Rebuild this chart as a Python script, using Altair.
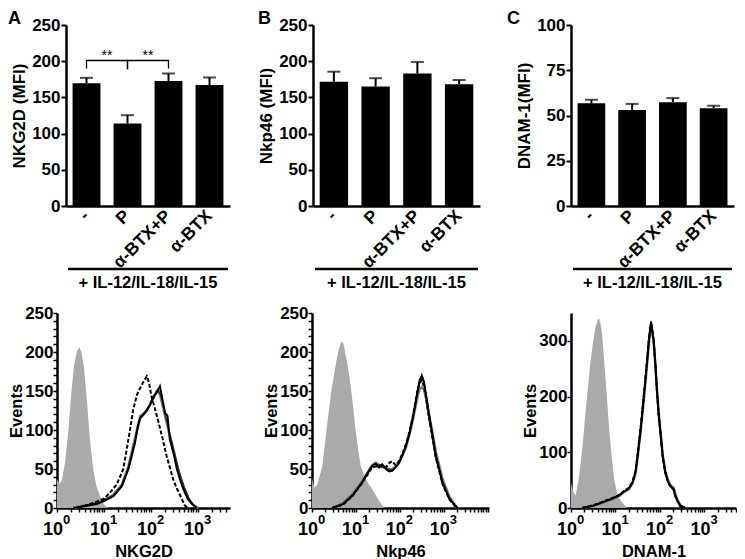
import altair as alt
import pandas as pd

FONT = "Liberation Sans"

# ---------------- bar panels (MFI) ----------------
conditions = ["-", "P", "α-BTX+P", "α-BTX"]
treatment = "+ IL-12/IL-18/IL-15"

nkg2d_mean = [169.5, 114.0, 172.5, 167.0]
nkg2d_sem = [7.5, 11.5, 10.5, 10.5]
nkp46_mean = [171.5, 165.0, 183.0, 168.0]
nkp46_sem = [14.0, 11.5, 16.0, 6.0]
dnam1_mean = [56.7, 53.1, 57.3, 54.0]
dnam1_sem = [2.0, 3.3, 2.3, 1.4]

# significance brackets (panel A)
bracket_cond = ["-", "-", "P", "P", "P", "P", "α-BTX+P", "α-BTX+P"]
bracket_y = [190, 201, 201, 189, 189, 201, 201, 190]
bracket_grp = [0, 0, 0, 0, 1, 1, 1, 1]
stars_cond = ["-", "P"]
stars_text = ["**", "**"]
stars_y = [202, 202]

# ---------------- histograms (log10 fluorescence, events) ----------------
# panel A: NKG2D
A_iso_lx = [0, 0.05, 0.1, 0.17, 0.24, 0.3, 0.36, 0.42, 0.47, 0.52, 0.57, 0.63, 0.7, 0.77, 0.84, 0.92, 0.99, 1.06, 1.12]
A_iso_y = [37, 31, 35, 58, 98, 145, 182, 200, 206, 200, 182, 143, 88, 50, 28, 14, 5, 1, 0]
A_neg_lx = [0.35, 0.84, 1.0, 1.2, 1.38, 1.52, 1.66, 1.72, 1.77, 1.84, 1.91, 1.98, 2.05, 2.12, 2.19, 2.24, 2.3, 2.35, 2.4, 2.48, 2.55, 2.62, 2.69, 2.78, 2.87, 2.97]
A_neg_y = [0, 5, 9, 15, 28, 50, 84, 105, 116, 120, 126, 133, 143, 148, 156, 140, 122, 118, 88, 70, 50, 36, 24, 12, 5, 0]
A_p_lx = [0.45, 0.84, 1.0, 1.13, 1.27, 1.41, 1.52, 1.62, 1.7, 1.77, 1.85, 1.91, 1.96, 2.01, 2.08, 2.16, 2.25, 2.33, 2.4, 2.47, 2.55, 2.62, 2.72, 2.8]
A_p_y = [0, 8, 12, 20, 30, 50, 88, 126, 145, 154, 163, 169, 160, 143, 128, 110, 88, 67, 52, 37, 25, 16, 3, 0]
A_bp_lx = [0.35, 0.84, 1.0, 1.2, 1.38, 1.52, 1.66, 1.77, 1.84, 1.91, 1.98, 2.05, 2.12, 2.19, 2.26, 2.33, 2.4, 2.48, 2.55, 2.62, 2.7, 2.8, 2.9, 3.0]
A_bp_y = [0, 6, 10, 17, 30, 54, 90, 118, 121, 125, 132, 141, 150, 146, 128, 110, 93, 74, 56, 40, 26, 12, 4, 0]
A_b_lx = [0.35, 0.84, 1.0, 1.2, 1.38, 1.52, 1.66, 1.77, 1.91, 2.05, 2.15, 2.22, 2.3, 2.4, 2.5, 2.6, 2.7, 2.8, 2.9, 2.98]
A_b_y = [0, 6, 10, 16, 29, 52, 86, 114, 124, 140, 152, 142, 120, 95, 70, 46, 28, 13, 4, 0]

# panel B: Nkp46
B_iso_lx = [0, 0.05, 0.12, 0.23, 0.31, 0.38, 0.44, 0.5, 0.56, 0.61, 0.66, 0.69, 0.72, 0.76, 0.82, 0.88, 0.94, 0.99, 1.05, 1.11, 1.22, 1.37, 1.53, 1.64]
B_iso_y = [38, 26, 30, 52, 90, 123, 150, 170, 190, 204, 212, 213, 210, 198, 180, 157, 128, 101, 75, 54, 37, 24, 9, 0]
B_neg_lx = [0.46, 0.7, 0.92, 1.14, 1.3, 1.37, 1.45, 1.53, 1.6, 1.68, 1.76, 1.83, 1.9, 1.98, 2.06, 2.14, 2.22, 2.29, 2.35, 2.4, 2.45, 2.5, 2.55, 2.6, 2.65, 2.71, 2.82, 2.97, 3.13, 3.25, 3.32]
B_neg_y = [0, 5, 16, 33, 48, 54, 57, 52, 56, 50, 47, 48, 52, 58, 68, 80, 96, 114, 132, 148, 162, 170, 162, 144, 125, 105, 67, 33, 12, 4, 0]
B_p_lx = [0.46, 0.7, 0.92, 1.14, 1.37, 1.53, 1.68, 1.76, 1.83, 1.9, 1.98, 2.06, 2.14, 2.22, 2.29, 2.35, 2.4, 2.45, 2.5, 2.55, 2.6, 2.65, 2.71, 2.82, 2.97, 3.13, 3.3]
B_p_y = [0, 4, 15, 32, 52, 55, 52, 58, 60, 55, 60, 70, 82, 98, 116, 134, 150, 160, 164, 156, 140, 120, 100, 64, 31, 11, 0]
B_bp_lx = [0.46, 0.7, 0.92, 1.14, 1.37, 1.45, 1.53, 1.6, 1.68, 1.76, 1.83, 1.9, 1.98, 2.06, 2.14, 2.22, 2.29, 2.35, 2.4, 2.45, 2.5, 2.55, 2.6, 2.65, 2.71, 2.82, 2.97, 3.13, 3.3]
B_bp_y = [0, 6, 18, 34, 55, 58, 55, 54, 52, 49, 50, 53, 58, 67, 78, 94, 112, 128, 142, 152, 155, 152, 140, 124, 106, 72, 38, 14, 0]
B_b_lx = [0.46, 0.7, 0.92, 1.14, 1.37, 1.53, 1.68, 1.83, 1.98, 2.14, 2.29, 2.4, 2.45, 2.5, 2.55, 2.6, 2.71, 2.82, 2.97, 3.13, 3.3]
B_b_y = [0, 5, 16, 32, 53, 53, 51, 48, 57, 79, 113, 150, 165, 168, 160, 142, 104, 66, 32, 11, 0]

# panel C: DNAM-1
C_iso_lx = [0, 0.05, 0.1, 0.16, 0.21, 0.27, 0.32, 0.38, 0.43, 0.49, 0.55, 0.6, 0.63, 0.66, 0.7, 0.75, 0.81, 0.86, 0.92, 0.97, 1.03, 1.09, 1.15, 1.26]
C_iso_y = [45, 30, 22, 45, 76, 120, 167, 215, 257, 295, 324, 338, 340, 332, 312, 260, 197, 140, 89, 52, 28, 16, 10, 0]
C_lx = [0.25, 0.5, 0.7, 0.9, 1.07, 1.2, 1.3, 1.38, 1.45, 1.5, 1.56, 1.62, 1.67, 1.72, 1.75, 1.78, 1.8, 1.83, 1.86, 1.9, 1.93, 1.97, 2.01, 2.06, 2.12, 2.18, 2.23, 2.28, 2.31, 2.34, 2.4, 2.46, 2.57]
C_neg_y = [0, 4, 10, 16, 22, 30, 35, 45, 64, 95, 137, 185, 227, 272, 300, 322, 333, 318, 300, 255, 215, 170, 137, 95, 64, 48, 40, 36, 34, 24, 12, 4, 0]
C_p_y = [0, 5, 11, 17, 23, 31, 36, 47, 66, 98, 140, 188, 230, 274, 302, 320, 330, 316, 298, 252, 212, 168, 135, 93, 63, 47, 39, 35, 32, 22, 11, 3, 0]
C_bp_y = [0, 4, 9, 15, 21, 29, 34, 44, 62, 92, 133, 180, 222, 266, 294, 316, 326, 314, 296, 254, 216, 172, 139, 97, 66, 50, 42, 38, 36, 26, 13, 5, 0]
C_b_y = [0, 4, 10, 16, 22, 30, 35, 45, 63, 94, 136, 184, 226, 270, 299, 322, 336, 320, 301, 256, 214, 169, 136, 94, 63, 47, 39, 35, 33, 23, 11, 4, 0]

exponents = [0, 1, 2, 3]
decade_base = ["10", "10", "10", "10"]


def bar_panel(letter, ytitle, means, sems, ymax, ystep, W, H, letter_dx, pad=0, brackets=False):
    df = pd.DataFrame({"cond": conditions, "mean": means, "sem": sems})
    df["upper"] = df["mean"] + df["sem"]
    xs = alt.Scale(domain=conditions, paddingInner=0.32, paddingOuter=0.16, range=[pad, pad + W])
    xaxis = alt.Axis(title=None, labelAngle=-45, labelAlign="right", labelBaseline="middle",
                     ticks=False, labelPadding=7, labelFontSize=17.5, domainWidth=2.5,
                     labelFlush=False)
    ys = alt.Scale(domain=[0, ymax], nice=False, zero=True)
    yaxis = alt.Axis(title=ytitle, values=list(range(0, ymax + 1, ystep)), tickSize=5,
                     tickWidth=2, domainWidth=2.5, labelFontSize=17, labelPadding=1,
                     titleFontSize=17, titlePadding=3, labelFlush=False, offset=-pad)

    def X():
        return alt.X("cond:N", sort=conditions, scale=xs, axis=xaxis)

    def Y(f):
        return alt.Y(f"{f}:Q", scale=ys, axis=yaxis)

    base = alt.Chart(df)
    layers = [
        base.mark_bar(color="black").encode(x=X(), y=Y("mean")),
        base.mark_rule(color="black", strokeWidth=2).encode(x=X(), y=Y("mean"), y2="upper:Q"),
        base.mark_tick(color="black", size=13, thickness=2).encode(x=X(), y=Y("upper")),
    ]
    if brackets:
        bdf = pd.DataFrame({"cond": bracket_cond, "y": bracket_y, "g": bracket_grp,
                            "i": list(range(len(bracket_y)))})
        layers.append(alt.Chart(bdf).mark_line(color="black", strokeWidth=1.3).encode(
            x=X(), y=Y("y"), detail="g:N", order="i:Q"))
        sdf = pd.DataFrame({"cond": stars_cond, "y": stars_y, "t": stars_text})
        layers.append(alt.Chart(sdf).mark_text(dx=20.5, baseline="alphabetic", fontSize=14,
                                               font=FONT, color="black").encode(
            x=X(), y=Y("y"), text="t:N"))
    tdf = pd.DataFrame({"t": [letter]})
    layers.append(alt.Chart(tdf).mark_text(fontSize=18, fontWeight="bold", align="left",
                                           baseline="top", font=FONT, color="black").encode(
        x=alt.value(pad + letter_dx), y=alt.value(-15), text="t:N"))
    udf = pd.DataFrame({"t": [treatment]})
    layers.append(alt.Chart(udf).mark_rule(color="black", strokeWidth=2.5).encode(
        x=alt.value(pad + 2), x2=alt.value(pad + W - 2), y=alt.value(H + 63)))
    layers.append(alt.Chart(udf).mark_text(fontSize=16.5, fontWeight="bold", align="center",
                                           baseline="middle", font=FONT, color="black").encode(
        x=alt.value(pad + W / 2), y=alt.value(H + 77), text="t:N"))
    return alt.layer(*layers).properties(width=W + pad, height=H)


def hist_panel(xtitle, iso_lx, iso_y, curves, xmax_exp, ymax, yticks, ylabel_every, W, H):
    xmax = 10 ** xmax_exp
    xs = alt.Scale(type="log", domain=[1, xmax], nice=False)
    minor = [m * 10 ** k for k in range(0, 5) for m in range(1, 10) if m * 10 ** k <= xmax]
    xaxis = alt.Axis(title=xtitle, values=minor, labels=False,
                     tickSize=4, tickWidth=1.5, domainWidth=2.5, titleFontSize=16.5,
                     titlePadding=31)
    ys = alt.Scale(domain=[0, ymax], nice=False, zero=True)
    yaxis = alt.Axis(title="Events", values=yticks,
                     labelExpr=f"datum.value % {ylabel_every} == 0 ? datum.label : ''",
                     tickSize=4, tickWidth=1.5, domainWidth=2.5, labelFontSize=17,
                     labelPadding=0, titleFontSize=16.5, titleX=-33, titleBaseline="bottom",
                     labelFlush=False, labelOverlap=False)

    def X():
        return alt.X("x:Q", scale=xs, axis=xaxis)

    def Y():
        return alt.Y("y:Q", scale=ys, axis=yaxis)

    layers = [
        alt.Chart(pd.DataFrame({"lx": iso_lx, "y": iso_y}))
        .transform_calculate(x="pow(10, datum.lx)")
        .mark_area(color="#aaaaaa", opacity=1)
        .encode(x=X(), y=Y())
    ]
    for lx, yv, color, width, dash in curves:
        mk = dict(color=color, strokeWidth=width)
        if dash:
            mk["strokeDash"] = dash
        layers.append(
            alt.Chart(pd.DataFrame({"lx": lx, "y": yv}))
            .transform_calculate(x="pow(10, datum.lx)")
            .mark_line(**mk)
            .encode(x=X(), y=Y())
        )
    dec = pd.DataFrame({"e": exponents, "b": decade_base})
    layers.append(
        alt.Chart(dec)
        .transform_calculate(x="pow(10, datum.e)")
        .mark_text(align="right", baseline="alphabetic", dx=6, fontSize=18, fontWeight="bold",
                   font=FONT, color="black")
        .encode(x=X(), y=alt.value(H + 27), text="b:N")
    )
    layers.append(
        alt.Chart(dec)
        .transform_calculate(x="pow(10, datum.e)")
        .mark_text(align="left", baseline="alphabetic", dx=6, fontSize=13, fontWeight="bold",
                   font=FONT, color="black")
        .encode(x=X(), y=alt.value(H + 16), text="e:N")
    )
    return alt.layer(*layers).properties(width=W, height=H)


BH = 181
barA = bar_panel("A", "NKG2D (MFI)", nkg2d_mean, nkg2d_sem, 250, 50, 164, BH, -58, pad=9,
                 brackets=True)
barB = bar_panel("B", "Nkp46 (MFI)", nkp46_mean, nkp46_sem, 250, 50, 167, BH, -55)
barC = bar_panel("C", "DNAM-1(MFI)", dnam1_mean, dnam1_sem, 100, 25, 163, BH, -64)

HH = 195
y250 = list(range(0, 251, 10))
histA = hist_panel("NKG2D", A_iso_lx, A_iso_y,
                   [(A_bp_lx, A_bp_y, "#7f7f7f", 2.5, None),
                    (A_b_lx, A_b_y, "#333333", 1.5, None),
                    (A_neg_lx, A_neg_y, "black", 2, None),
                    (A_p_lx, A_p_y, "black", 2, [4, 2])],
                   3.68, 250, y250, 50, 173, HH)
histB = hist_panel("Nkp46", B_iso_lx, B_iso_y,
                   [(B_bp_lx, B_bp_y, "#7f7f7f", 2.5, None),
                    (B_b_lx, B_b_y, "#333333", 1.5, None),
                    (B_neg_lx, B_neg_y, "black", 2, None),
                    (B_p_lx, B_p_y, "black", 2, [4, 2])],
                   4.03, 250, y250, 50, 177, HH)
histC = hist_panel("DNAM-1", C_iso_lx, C_iso_y,
                   [(C_lx, C_bp_y, "#7f7f7f", 2.5, None),
                    (C_lx, C_b_y, "#333333", 1.5, None),
                    (C_lx, C_neg_y, "black", 2, None),
                    (C_lx, C_p_y, "black", 2, [4, 2])],
                   3.71, 350, [0, 100, 200, 300], 100, 165, HH)

row1 = alt.hconcat(barA, barB, barC, spacing=27)
row2 = alt.hconcat(histA, histB, histC, spacing=33)

chart = (
    alt.vconcat(row1, row2, spacing=12)
    .properties(padding={"left": 0, "top": 2, "right": 0, "bottom": 0})
    .configure(font=FONT)
    .configure_view(stroke=None)
    .configure_axis(domainColor="black", tickColor="black", labelColor="black",
                    titleColor="black", labelFont=FONT, titleFont=FONT,
                    labelFontWeight="bold", titleFontWeight="bold", grid=False)
)

chart.save("out.html", embed_options={"renderer": "svg", "actions": False})
